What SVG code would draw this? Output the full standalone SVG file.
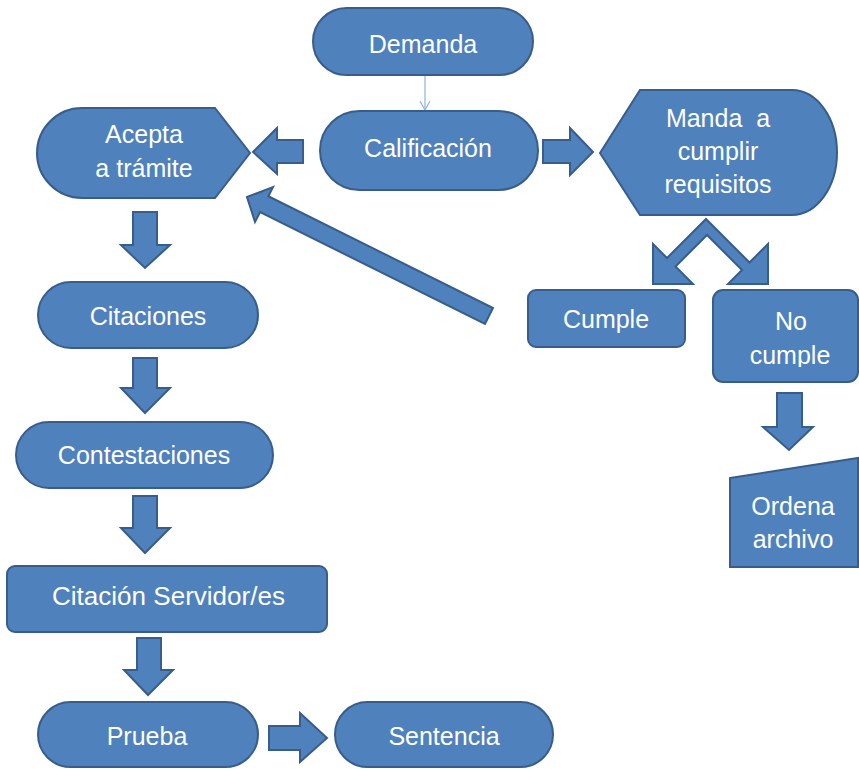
<svg xmlns="http://www.w3.org/2000/svg" width="859" height="769" viewBox="0 0 859 769">
<style>
.n{fill:#4F81BD;stroke:#385D8A;stroke-width:2}
.a{fill:#4F81BD;stroke:#385D8A;stroke-width:2;stroke-linejoin:miter}
.t{fill:#FFFFFF;font-family:"Liberation Sans",Arial,sans-serif;font-size:25px;text-anchor:middle}
.thin{fill:none;stroke:#8DB3E2;stroke-width:1.2}
</style>
<defs>
<clipPath id="clipNo"><rect x="700" y="280" width="159" height="87"/></clipPath>
</defs>
<rect width="859" height="769" fill="#FFFFFF"/>

<g id="connectors">
<line class="thin" x1="425" y1="75" x2="425" y2="110"/>
<polyline class="thin" points="420,101 425,110 430,101"/>
<polygon class="a" points="253,152 277,128 277,140 303,140 303,163 277,163 277,174"/>
<polygon class="a" points="543,140 570,140 570,128 593,152 570,175 570,163 543,163"/>
<polygon class="a" points="247,197 273,187 268.3,196.2 493,308 485,324 260.1,212.1 255,222"/>
<polygon class="a" points="706,219 749.5,262.5 768,244 768,284 728,284 742,270 707,235 675.5,266.5 693,284 653,284 653,244 667,258"/>
<polygon class="a" points="777,393 802,393 802,427 813,427 789,450 763,427 777,427"/>
<polygon class="a" points="133,212 157,212 157,245 170,245 145,268 121,245 133,245"/>
<polygon class="a" points="133,358 157,358 157,388 170,388 145,413 121,388 133,388"/>
<polygon class="a" points="133,496 157,496 157,528 170,528 145,553 121,528 133,528"/>
<polygon class="a" points="137,638 161,638 161,670 173,670 148,695 124,670 137,670"/>
<polygon class="a" points="269,726 300,726 300,713 327,738 300,762 300,750 269,750"/>
</g>

<g id="demanda">
<rect class="n" x="313" y="8" width="220" height="67" rx="33.5"/>
<text class="t" x="423" y="53">Demanda</text>
</g>
<g id="calificacion">
<rect class="n" x="320" y="111" width="218" height="79" rx="39.5"/>
<text class="t" x="428" y="157">Calificación</text>
</g>
<g id="acepta">
<path class="n" d="M215,108 L250,153 L215,198 L82,198 A45,45 0 0 1 82,108 Z"/>
<text class="t" x="144" y="143">Acepta</text>
<text class="t" x="144" y="177">a trámite</text>
</g>
<g id="manda">
<path class="n" d="M600,153 L640,90 L792,90 A45,62.5 0 0 1 792,215 L640,215 Z"/>
<text class="t" x="718" y="127" xml:space="preserve">Manda  a</text>
<text class="t" x="718" y="160">cumplir</text>
<text class="t" x="718" y="193">requisitos</text>
</g>
<g id="cumple">
<rect class="n" x="528" y="290" width="157" height="57" rx="8"/>
<text class="t" x="606" y="328">Cumple</text>
</g>
<g id="nocumple">
<rect class="n" x="713" y="290" width="145" height="92" rx="10"/>
<text class="t" x="791" y="330">No</text>
<text class="t" x="790" y="364" clip-path="url(#clipNo)">cumple</text>
</g>
<g id="ordena">
<polygon class="n" points="730,478 858,458 858,567 730,567"/>
<text class="t" x="793" y="515">Ordena</text>
<text class="t" x="793" y="548">archivo</text>
</g>
<g id="citaciones">
<rect class="n" x="38" y="282" width="220" height="66" rx="33"/>
<text class="t" x="148" y="325">Citaciones</text>
</g>
<g id="contestaciones">
<rect class="n" x="16" y="422" width="257" height="66" rx="33"/>
<text class="t" x="144" y="464">Contestaciones</text>
</g>
<g id="citacion-servidores">
<rect class="n" x="7" y="566" width="320" height="66" rx="8"/>
<text class="t" x="52" y="605" style="text-anchor:start" textLength="233" lengthAdjust="spacingAndGlyphs">Citación Servidor/es</text>
</g>
<g id="prueba">
<rect class="n" x="38" y="702" width="220" height="65" rx="32.5"/>
<text class="t" x="147" y="745">Prueba</text>
</g>
<g id="sentencia">
<rect class="n" x="335" y="702" width="218" height="65" rx="32.5"/>
<text class="t" x="444" y="745">Sentencia</text>
</g>
</svg>
